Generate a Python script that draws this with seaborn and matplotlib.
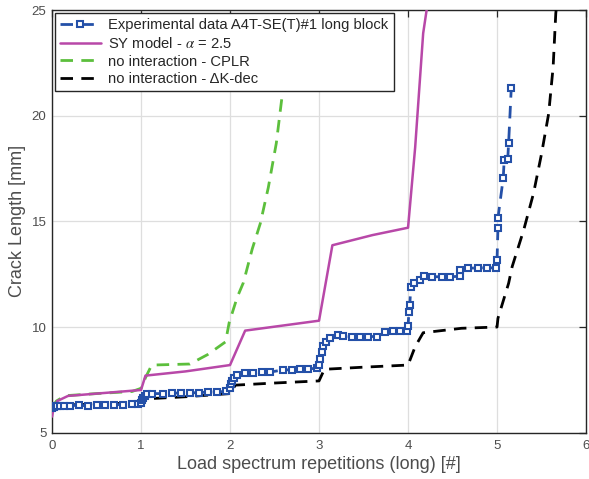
import matplotlib
matplotlib.use("Agg")
import matplotlib.pyplot as plt
import seaborn as sns
import pandas as pd

# Experimental crack growth (open squares)
exp_x = [0.0, 0.01, 0.02, 0.04, 0.06, 0.09, 0.13, 0.2, 0.3, 0.4, 0.5, 0.6, 0.7, 0.8, 0.9, 0.97,
         1.0, 1.01, 1.02, 1.04, 1.07, 1.12, 1.25, 1.35, 1.45, 1.55, 1.65, 1.75, 1.85, 1.95,
         2.0, 2.01, 2.02, 2.04, 2.08, 2.17, 2.26, 2.36, 2.45, 2.6, 2.7, 2.79, 2.88, 2.98,
         3.0, 3.01, 3.03, 3.05, 3.08, 3.12, 3.21, 3.27, 3.37, 3.46, 3.55, 3.65, 3.74, 3.83, 3.91, 3.99,
         4.0, 4.01, 4.02, 4.03, 4.07, 4.13, 4.18, 4.27, 4.38, 4.47, 4.58, 4.58, 4.67, 4.79, 4.89, 4.99,
         5.0, 5.01, 5.01, 5.07, 5.08, 5.12, 5.13, 5.16]
exp_y = [6.15, 6.2, 6.22, 6.24, 6.25, 6.27, 6.27, 6.28, 6.3, 6.27, 6.32, 6.3, 6.33, 6.33, 6.35, 6.36,
         6.42, 6.55, 6.65, 6.75, 6.82, 6.85, 6.85, 6.87, 6.88, 6.88, 6.9, 6.92, 6.93, 6.95,
         7.1, 7.3, 7.45, 7.6, 7.73, 7.81, 7.84, 7.86, 7.87, 7.97, 7.98, 8.0, 8.02, 8.05,
         8.2, 8.5, 8.8, 9.1, 9.3, 9.5, 9.6, 9.58, 9.54, 9.55, 9.55, 9.55, 9.78, 9.8, 9.8, 9.8,
         10.05, 10.7, 11.04, 11.9, 12.07, 12.23, 12.42, 12.38, 12.38, 12.38, 12.4, 12.7, 12.78, 12.8, 12.8, 12.8,
         13.17, 14.67, 15.15, 17.07, 17.9, 17.94, 18.7, 21.33]

# SY model, alpha = 2.5
sy_x = [0.0, 0.02, 0.06, 0.18, 1.0, 1.05, 1.5, 2.0, 2.17, 3.0, 3.15, 3.6, 4.0, 4.08, 4.17, 4.23]
sy_y = [5.76, 6.2, 6.5, 6.74, 7.02, 7.7, 7.9, 8.2, 9.83, 10.3, 13.87, 14.35, 14.7, 18.5, 23.9, 25.6]

# No interaction, CPLR
cplr_x = [0.0, 0.05, 0.15, 0.5, 0.9, 1.0, 1.05, 1.12, 1.55, 1.75, 1.95, 1.99, 2.08, 2.15, 2.25, 2.34, 2.43, 2.52, 2.59]
cplr_y = [6.2, 6.5, 6.75, 6.85, 6.95, 7.1, 7.6, 8.2, 8.25, 8.7, 9.3, 10.2, 11.4, 12.1, 13.7, 14.9, 16.6, 18.7, 21.1]

# No interaction, Delta K-dec
dk_x = [0.0, 0.03, 0.5, 1.0, 1.05, 1.5, 2.0, 2.06, 2.5, 3.0, 3.06, 3.5, 4.0, 4.08, 4.17, 4.6, 5.0, 5.01,
        5.13, 5.17, 5.3, 5.41, 5.5, 5.58, 5.63, 5.66, 5.68]
dk_y = [6.2, 6.3, 6.35, 6.42, 6.6, 6.7, 6.85, 7.25, 7.35, 7.45, 8.0, 8.1, 8.2, 9.07, 9.73, 9.94, 10.0, 10.41,
        12.07, 12.86, 14.6, 16.33, 18.2, 20.1, 22.3, 24.85, 25.6]

labels = ["Experimental data A4T-SE(T)#1 long block",
          r"SY model - $\alpha$ = 2.5",
          "no interaction - CPLR",
          "no interaction - \u0394K-dec"]

sns.set_style("white")
plt.rcParams["font.family"] = ["Liberation Sans", "DejaVu Sans"]
plt.rcParams["mathtext.fontset"] = "stix"

fig = plt.figure(figsize=(5.89, 4.79), dpi=100)
ax = fig.add_axes([0.0883, 0.0967, 0.9067, 0.8823])

axis_col = "#262626"
tick_col = "#4d4d4d"

blue = "#2450a8"
magenta = "#b848a8"
green = "#5cbf3c"

df_exp = pd.DataFrame({"x": exp_x, "y": exp_y})
df_sy = pd.DataFrame({"x": sy_x, "y": sy_y})
df_cp = pd.DataFrame({"x": cplr_x, "y": cplr_y})
df_dk = pd.DataFrame({"x": dk_x, "y": dk_y})

sns.lineplot(data=df_exp, x="x", y="y", ax=ax, sort=False, estimator=None,
             color=blue, lw=2.0, marker="s", markersize=4.3, markerfacecolor="white",
             markeredgecolor=blue, markeredgewidth=1.5, label=labels[0], zorder=5)
ax.lines[-1].set_dashes([4.5, 3])
sns.lineplot(data=df_sy, x="x", y="y", ax=ax, sort=False, estimator=None,
             color=magenta, lw=1.8, label=labels[1], zorder=4)
sns.lineplot(data=df_cp, x="x", y="y", ax=ax, sort=False, estimator=None,
             color=green, lw=2.0, label=labels[2], zorder=3)
ax.lines[-1].set_dashes([4.5, 3])
sns.lineplot(data=df_dk, x="x", y="y", ax=ax, sort=False, estimator=None,
             color="black", lw=2.0, label=labels[3], zorder=3)
ax.lines[-1].set_dashes([4.5, 3])

ax.set_xlim(0, 6)
ax.set_ylim(5, 25)
ax.set_xticks([0, 1, 2, 3, 4, 5, 6])
ax.set_yticks([5, 10, 15, 20, 25])
ax.grid(True, color="#dedede", lw=0.9)
ax.set_axisbelow(True)

for s in ax.spines.values():
    s.set_color(axis_col)
    s.set_linewidth(1.0)
ax.tick_params(direction="in", length=5, width=0.9, colors=axis_col, labelcolor=tick_col,
               labelsize=9.5, top=True, right=True)
ax.tick_params(axis="x", pad=5)
ax.tick_params(axis="y", pad=4)

ax.set_xlabel("Load spectrum repetitions (long) [#]", fontsize=13, color=tick_col, labelpad=3)
ax.set_ylabel("Crack Length [mm]", fontsize=13, color=tick_col, labelpad=4)

leg = ax.legend(loc="upper left", bbox_to_anchor=(0.005, 0.993), fontsize=10.6,
                frameon=True, fancybox=False, framealpha=1, edgecolor=axis_col,
                borderpad=0.35, labelspacing=0.25, handlelength=2.8, handletextpad=0.5,
                borderaxespad=0.0)
leg.get_frame().set_linewidth(1.0)

fig.savefig("out.png", dpi=100)
